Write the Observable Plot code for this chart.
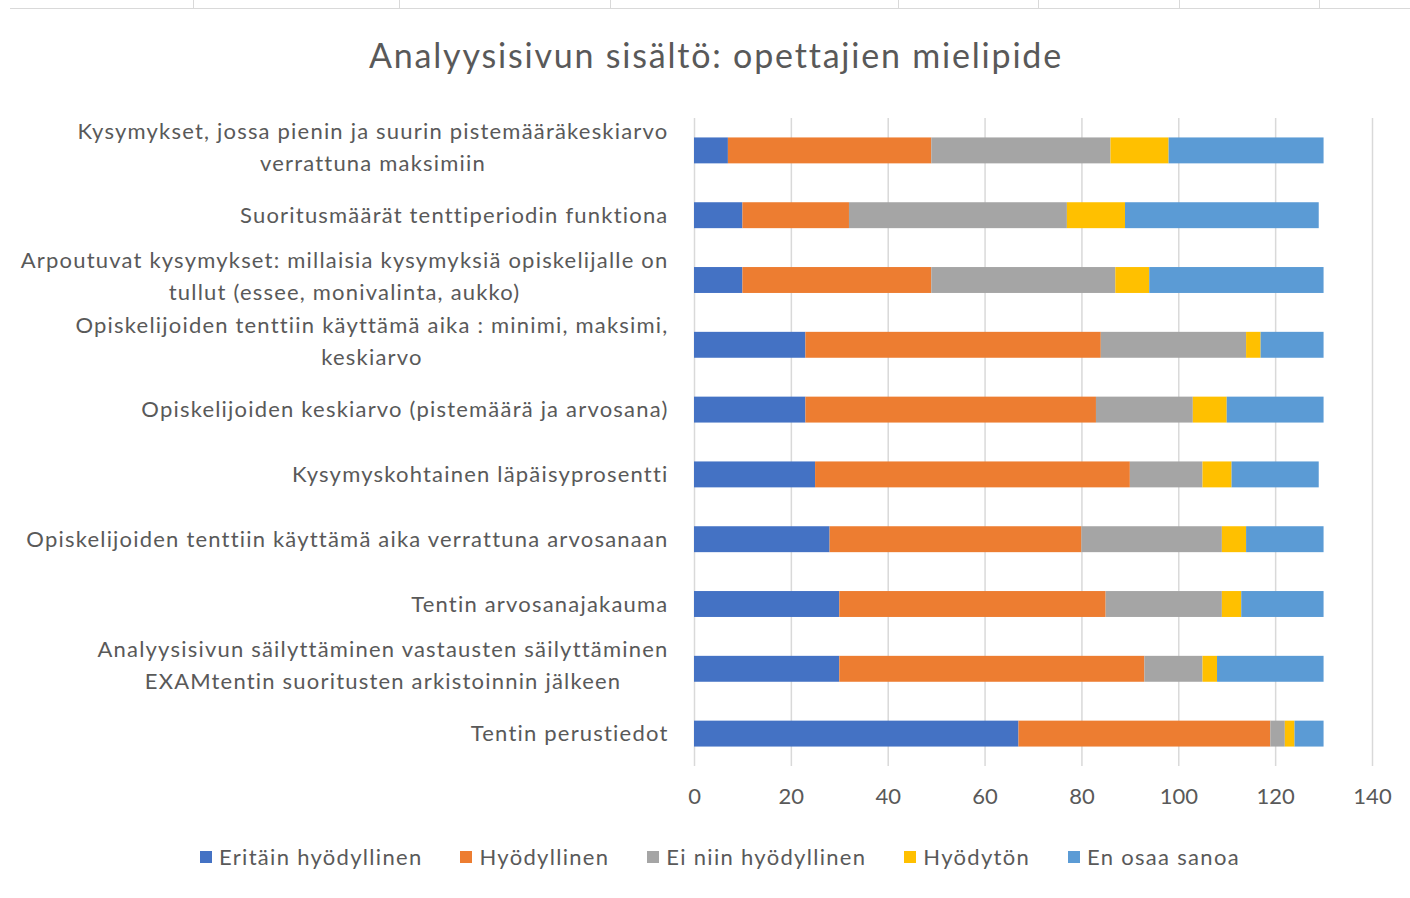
<!DOCTYPE html>
<html>
<head>
<meta charset="utf-8">
<script src="https://cdn.jsdelivr.net/npm/d3@7"></script>
<script src="https://cdn.jsdelivr.net/npm/@observablehq/plot@0.6"></script>
<style>
  html, body { margin: 0; padding: 0; background: #fff; }
  body { width: 1410px; height: 898px; position: relative; overflow: hidden; font-family: Lato, "Open Sans", sans-serif; color: #595959; }
  #topline { position: absolute; left: 10px; right: 0; top: 0; height: 8px; border-bottom: 1px solid #d9d9d9; }
  .vsep { position: absolute; top: 0; height: 8px; border-left: 1px solid #d9d9d9; }
  #title { position: absolute; top: 35px; left: 0; width: 1410px; padding-left: 22px; box-sizing: border-box; text-align: center; font-size: 34px; line-height: 40px; letter-spacing: 1.8px; color: #595959; }
  #chart { position: absolute; top: 90px; left: 0; }
  #legend { position: absolute; top: 843px; left: 0; width: 1410px; padding-left: 30px; box-sizing: border-box; display: flex; justify-content: center; font-size: 22px; line-height: 28px; letter-spacing: 1.3px; color: #595959; }
  .item { display: flex; align-items: center; margin: 0 19px; }
  .sw { width: 12px; height: 12px; margin-right: 7px; }
  g[aria-label="y-axis tick label"] { letter-spacing: 1.2px; }
</style>
</head>
<body>
<div id="topline"></div>
<div id="title"></div>
<div id="chart"></div>
<div id="legend"></div>
<script>
const title = "Analyysisivun sisältö: opettajien mielipide";

const categories = [
  "Kysymykset, jossa pienin ja suurin pistemääräkeskiarvo\nverrattuna maksimiin",
  "Suoritusmäärät tenttiperiodin funktiona",
  "Arpoutuvat kysymykset: millaisia kysymyksiä opiskelijalle on\ntullut (essee, monivalinta, aukko)",
  "Opiskelijoiden tenttiin käyttämä aika : minimi, maksimi,\nkeskiarvo",
  "Opiskelijoiden keskiarvo (pistemäärä ja arvosana)",
  "Kysymyskohtainen läpäisyprosentti",
  "Opiskelijoiden tenttiin käyttämä aika verrattuna arvosanaan",
  "Tentin arvosanajakauma",
  "Analyysisivun säilyttäminen vastausten säilyttäminen\nEXAMtentin suoritusten arkistoinnin jälkeen",
  "Tentin perustiedot"
];

const seriesNames = ["Eritäin hyödyllinen", "Hyödyllinen", "Ei niin hyödyllinen", "Hyödytön", "En osaa sanoa"];
const seriesColors = ["#4472C4", "#ED7D31", "#A5A5A5", "#FFC000", "#5B9BD5"];

const eritainHyodyllinen = [7, 10, 10, 23, 23, 25, 28, 30, 30, 67];
const hyodyllinen        = [42, 22, 39, 61, 60, 65, 52, 55, 63, 52];
const eiNiinHyodyllinen  = [37, 45, 38, 30, 20, 15, 29, 24, 12, 3];
const hyodyton           = [12, 12, 7, 3, 7, 6, 5, 4, 3, 2];
const enOsaaSanoa        = [32, 40, 36, 13, 20, 18, 16, 17, 22, 6];

const xTicks = [0, 20, 40, 60, 80, 100, 120, 140];

const seriesValues = [eritainHyodyllinen, hyodyllinen, eiNiinHyodyllinen, hyodyton, enOsaaSanoa];
const rows = [];
categories.forEach((c, i) => {
  seriesNames.forEach((s, j) => rows.push({category: c, series: s, value: seriesValues[j][i]}));
});

document.getElementById("title").textContent = title;

// decorative cropped table line at top
[193, 399, 610, 898, 1038, 1179, 1319].forEach(x => {
  const d = document.createElement("div");
  d.className = "vsep"; d.style.left = x + "px";
  document.body.appendChild(d);
});

const chart = Plot.plot({
  width: 1410,
  height: 730,
  marginLeft: 694,
  marginRight: 38,
  marginTop: 28,
  marginBottom: 54,
  style: {fontFamily: "Lato, 'Open Sans', sans-serif", fontSize: "22px", color: "#595959", background: "transparent"},
  x: {domain: [0, 140], ticks: xTicks},
  y: {domain: categories, paddingInner: 0.6, paddingOuter: 0.3, round: false},
  color: {domain: seriesNames, range: seriesColors},
  marks: [
    Plot.gridX(xTicks, {stroke: "#d9d9d9", strokeOpacity: 1, strokeWidth: 1.5}),
    Plot.barX(rows, {x: "value", y: "category", fill: "series", order: null}),
    Plot.axisX(xTicks, {tickSize: 0, tickPadding: 22, fontSize: 22, fill: "#595959", label: null, tickFormat: d => String(d)}),
    Plot.axisY({tickSize: 0, tickPadding: 26, dy: -3, fontSize: 22, fill: "#595959", label: null, lineHeight: 1.45})
  ]
});
document.getElementById("chart").appendChild(chart);

// Center multi-line category labels within their own block (as the original does)
chart.querySelectorAll('g[aria-label="y-axis tick label"] text').forEach(t => {
  const tspans = t.querySelectorAll("tspan");
  if (tspans.length > 1) {
    const w = t.getBBox().width;
    t.setAttribute("text-anchor", "middle");
    tspans.forEach(ts => ts.setAttribute("x", -w / 2));
    t.setAttribute("transform", (t.getAttribute("transform") || "") + " translate(0,-3.5)");
  }
});

const legend = document.getElementById("legend");
seriesNames.forEach((s, i) => {
  const it = document.createElement("div");
  it.className = "item";
  const sw = document.createElement("div");
  sw.className = "sw"; sw.style.background = seriesColors[i];
  const lb = document.createElement("span");
  lb.textContent = s;
  it.appendChild(sw); it.appendChild(lb);
  legend.appendChild(it);
});
</script>
</body>
</html>
